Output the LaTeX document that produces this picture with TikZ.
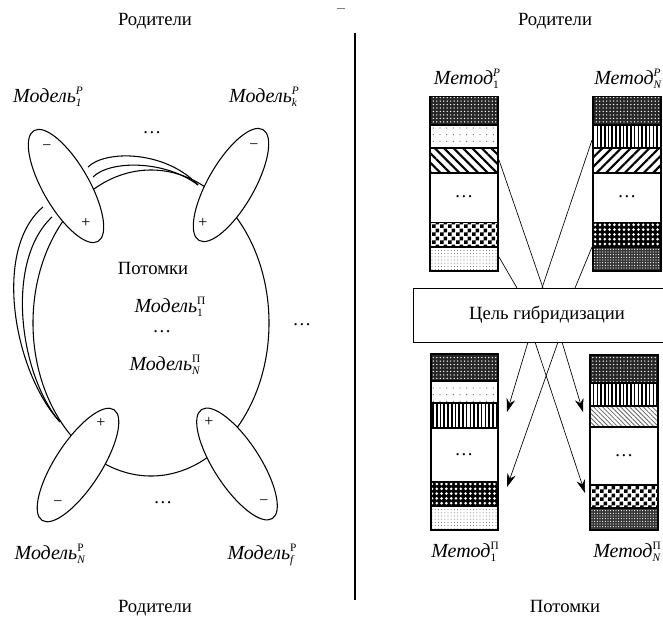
\documentclass[tikz,border=0pt]{standalone}
\usepackage{fontspec}
\setmainfont{Liberation Serif}
\usetikzlibrary{patterns,patterns.meta,arrows.meta}
\pgfdeclarepatternformonly{bigchecker}{\pgfpointorigin}{\pgfqpoint{6pt}{6pt}}{\pgfqpoint{6pt}{6pt}}{%
  \pgfpathrectangle{\pgfpointorigin}{\pgfqpoint{3pt}{3pt}}%
  \pgfpathrectangle{\pgfqpoint{3pt}{3pt}}{\pgfqpoint{3pt}{3pt}}%
  \pgfusepath{fill}}
\newcommand\sbsp[2]{\raisebox{-3.2pt}{\fontsize{8.5}{9}\selectfont\begin{tabular}[b]{@{}l@{}}#2\\#1\end{tabular}}}
\begin{document}
\begin{tikzpicture}[x=0.75pt,y=-0.75pt,
  every node/.style={font=\fontsize{14}{16}\selectfont, inner sep=0pt},
  lbl/.style={font=\fontsize{15}{17}\selectfont},
  ttl/.style={anchor=base},
  sign/.style={font=\fontsize{12}{12}\selectfont},
  oval/.style={draw, line width=0.8pt, fill=white},
  band/.style={draw, line width=1.1pt},
  darkdots/.style={preaction={fill=black!85}, pattern={Dots[distance=2.6pt,radius=0.55pt]}, pattern color=white},
  sparsedots/.style={pattern={Dots[distance=5pt,radius=0.45pt]}, pattern color=black!60},
  lightdots/.style={pattern={Dots[distance=2.4pt,radius=0.4pt]}, pattern color=black!55},
  nwlines/.style={pattern={Lines[angle=-45,distance=5pt,line width=1.6pt]}},
  nelines/.style={pattern={Lines[angle=45,distance=5pt,line width=1.6pt]}},
  vlines/.style={pattern={Lines[angle=90,distance=2.8pt,line width=1.2pt]}},
  lightnw/.style={pattern={Lines[angle=-45,distance=2.4pt,line width=0.6pt]}, pattern color=black!60},
  checker/.style={pattern=bigchecker},
  bubbles/.style={preaction={fill=black}, pattern={Dots[distance=3.6pt,radius=1.1pt]}, pattern color=white},
  dkgrid/.style={preaction={fill=black!80}, pattern={Dots[distance=2pt,radius=0.45pt]}, pattern color=white},
  conn/.style={line width=0.5pt},
  arr/.style={line width=0.5pt, -{Stealth[length=10pt,width=6.5pt]}}]
\useasboundingbox (0,0) rectangle (663,628);
\clip (0,0) rectangle (663,628);

% titles
\node[ttl] (t1) at (155,25) {Родители};
\node[ttl] (t2) at (555,25) {Родители};
\node[ttl] (t3) at (155,612) {Родители};
\node[ttl] (t4) at (565,612) {Потомки};
\draw[black!50, line width=0.5pt] (337,8) -- (345,8);
\coordinate (dtop) at (355,33);
\coordinate (dbot) at (355,600);
\draw[line width=1pt] (dtop) -- (dbot);

% ---------------- left part ----------------
\draw[line width=0.8pt] (151,323) ellipse [x radius=118, y radius=153];
\draw[line width=0.8pt] (88,167) .. controls (105,150) and (165,150) .. (198,185);
\draw[line width=0.8pt] (93,177) .. controls (110,160) and (165,160) .. (198,185);
\draw[line width=0.8pt] (43,207) .. controls (-8,250) and (14,372) .. (60,422);
\draw[line width=0.8pt] (52,217) .. controls (4,262) and (20,376) .. (60,422);

\draw[oval, rotate around={-60:(66,186)}] (66,186) ellipse [x radius=64, y radius=23];
\draw[oval, rotate around={60:(231,185)}] (231,185) ellipse [x radius=64, y radius=23];
\draw[oval, rotate around={57:(78,465)}] (78,465) ellipse [x radius=66, y radius=23];
\draw[oval, rotate around={-57:(237,464)}] (237,464) ellipse [x radius=65, y radius=23];

\node[sign] (s1) at (47,148) {−};
\node[sign] (s2) at (86,223) {+};
\node[sign] (s3) at (254,147) {−};
\node[sign] (s4) at (203,223) {+};
\node[sign] (s5) at (101,423) {+};
\node[sign] (s6) at (58,504) {−};
\node[sign] (s7) at (209,422) {+};
\node[sign] (s8) at (264,503) {−};

\node[lbl] (m1) at (48,98) {\textit{Модель}\sbsp{\textit{1}}{\textit{P}}};
\node[lbl] (mk) at (264,98) {\textit{Модель}\sbsp{\textit{k}}{\textit{P}}};
\node[lbl] (mN) at (50,555) {\textit{Модель}\sbsp{\textit{N}}{P}};
\node[lbl] (mf) at (262,555) {\textit{Модель}\sbsp{\textit{f}}{P}};

\node (d1) at (152,133) {\ldots};
\node (d2) at (302,325) {\ldots};
\node (d3) at (163,503) {\ldots};

\node (pot) at (153,268) {Потомки};
\node[lbl] (p1) at (170,308) {\textit{Модель}\sbsp{1}{П}};
\node (d4) at (162,332) {\ldots};
\node[lbl] (pN) at (165,366) {\textit{Модель}\sbsp{\textit{N}}{П}};

% ---------------- right part ----------------
% column 1
\path[band, darkdots]   (430,96.7) rectangle (498,125);
\path[band, sparsedots] (430,125) rectangle (498,148);
\path[band, nwlines]    (430,148) rectangle (498,173);
\path[band]             (430,173) rectangle (498,222.7);
\path[band, checker]    (430,222.7) rectangle (498,247);
\path[band, lightdots]  (430,247) rectangle (498,271);
\node (c1d) at (464,197) {\ldots};
% column 2
\path[band, darkdots]   (593,96.7) rectangle (661,125);
\path[band, vlines]     (593,125) rectangle (661,148);
\path[band, nelines]    (593,148) rectangle (661,173);
\path[band]             (593,173) rectangle (661,222.7);
\path[band, bubbles]    (593,222.7) rectangle (661,247);
\path[band, dkgrid]     (593,247) rectangle (661,271);
\node (c2d) at (627,197) {\ldots};
% column 3
\path[band, darkdots]   (431,354) rectangle (498,381);
\path[band, sparsedots] (431,381) rectangle (498,403);
\path[band, vlines]     (431,403) rectangle (498,428);
\path[band]             (431,428) rectangle (498,482);
\path[band, bubbles]    (431,482) rectangle (498,506);
\path[band, lightdots]  (431,506) rectangle (498,530);
\node (c3d) at (464,455) {\ldots};
% column 4
\path[band, darkdots]   (590,355) rectangle (658,383);
\path[band, vlines]     (590,383) rectangle (658,406);
\path[band, lightnw]    (590,406) rectangle (658,427);
\path[band]             (590,427) rectangle (658,485);
\path[band, checker]    (590,485) rectangle (658,508);
\path[band, dkgrid]     (590,508) rectangle (658,530);
\node (c4d) at (624,456) {\ldots};

\node[lbl] (l1) at (467,80) {\textit{Метод}\sbsp{1}{\textit{P}}};
\node[lbl] (l2) at (628,80) {\textit{Метод}\sbsp{\textit{N}}{\textit{P}}};
\node[lbl] (l3) at (465,553) {\textit{Метод}\sbsp{1}{П}};
\node[lbl] (l4) at (627,553) {\textit{Метод}\sbsp{\textit{N}}{П}};

% connectors
\coordinate (A1) at (499,160); \coordinate (A2) at (543,288);
\coordinate (A3) at (562,342); \coordinate (A4) at (583,412);
\coordinate (B1) at (499,257); \coordinate (B2) at (517,288);
\coordinate (B3) at (535,342); \coordinate (B4) at (585,493);
\coordinate (C1) at (592,140); \coordinate (C2) at (542,288);
\coordinate (C3) at (528,342); \coordinate (C4) at (507,412);
\coordinate (D1) at (592,247); \coordinate (D2) at (575,288);
\coordinate (D3) at (558,342); \coordinate (D4) at (507,487);
\draw[conn] (A1) -- (A2);
\draw[conn] (B1) -- (B2);
\draw[conn] (C1) -- (C2);
\draw[conn] (D1) -- (D2);
\draw[arr] (A3) -- (A4);
\draw[arr] (B3) -- (B4);
\draw[arr] (C3) -- (C4);
\draw[arr] (D3) -- (D4);

\node[draw, line width=1pt, fill=white, anchor=north west, minimum width=201pt, minimum height=40.5pt] (goal) at (413,288) {};
\node (goaltxt) at (547,315) {Цель гибридизации};
\end{tikzpicture}
\end{document}
